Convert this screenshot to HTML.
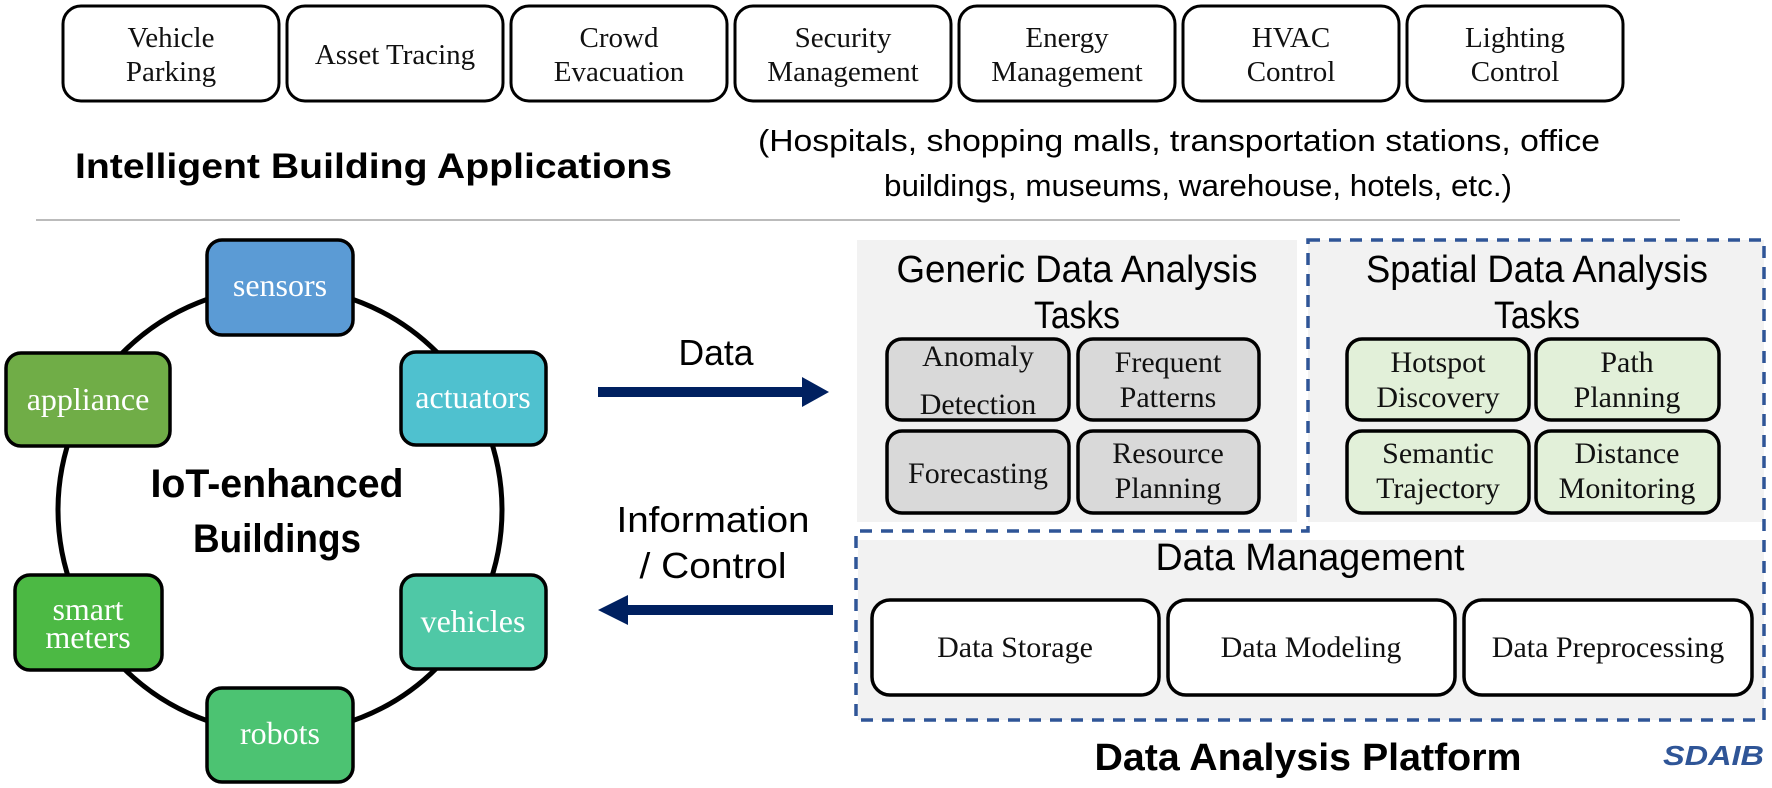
<!DOCTYPE html>
<html><head><meta charset="utf-8"><style>
html,body{margin:0;padding:0;background:#fff;}
svg{display:block;}
.serif{font-family:"Liberation Serif",serif;}
.sans{font-family:"Liberation Sans",sans-serif;}
</style></head><body>
<svg width="1772" height="788" viewBox="0 0 1772 788" xmlns="http://www.w3.org/2000/svg">
<g fill="#fff" stroke="#000" stroke-width="3">
<rect x="63" y="6" width="216" height="95" rx="18"/>
<rect x="287" y="6" width="216" height="95" rx="18"/>
<rect x="511" y="6" width="216" height="95" rx="18"/>
<rect x="735" y="6" width="216" height="95" rx="18"/>
<rect x="959" y="6" width="216" height="95" rx="18"/>
<rect x="1183" y="6" width="216" height="95" rx="18"/>
<rect x="1407" y="6" width="216" height="95" rx="18"/>
</g>
<g class="serif" font-size="29" text-anchor="middle" fill="#111">
<text x="171" y="47">Vehicle</text><text x="171" y="81">Parking</text>
<text x="395" y="64">Asset Tracing</text>
<text x="619" y="47">Crowd</text><text x="619" y="81">Evacuation</text>
<text x="843" y="47">Security</text><text x="843" y="81">Management</text>
<text x="1067" y="47">Energy</text><text x="1067" y="81">Management</text>
<text x="1291" y="47">HVAC</text><text x="1291" y="81">Control</text>
<text x="1515" y="47">Lighting</text><text x="1515" y="81">Control</text>
</g>
<text class="sans" x="75" y="178" font-size="35" font-weight="bold" textLength="597" lengthAdjust="spacingAndGlyphs">Intelligent Building Applications</text>
<text class="sans" x="758" y="151" font-size="31" textLength="842" lengthAdjust="spacingAndGlyphs">(Hospitals, shopping malls, transportation stations, office</text>
<text class="sans" x="884" y="196" font-size="31" textLength="628" lengthAdjust="spacingAndGlyphs">buildings, museums, warehouse, hotels, etc.)</text>
<line x1="36" y1="220" x2="1680" y2="220" stroke="#bbb" stroke-width="2"/>

<ellipse cx="280" cy="510" rx="222" ry="223" fill="none" stroke="#000" stroke-width="5"/>
<g stroke="#000" stroke-width="3.5">
<rect x="207" y="240" width="146" height="95" rx="15" fill="#5b9bd5"/>
<rect x="6" y="353" width="164" height="93" rx="15" fill="#70ad47"/>
<rect x="401" y="352" width="145" height="93" rx="15" fill="#4fc1cf"/>
<rect x="15" y="575" width="147" height="95" rx="15" fill="#4cb944"/>
<rect x="401" y="575" width="145" height="94" rx="15" fill="#4fc8a6"/>
<rect x="207" y="688" width="146" height="94" rx="15" fill="#4cc372"/>
</g>
<g class="serif" font-size="32" text-anchor="middle" fill="#fff">
<text x="280" y="296">sensors</text>
<text x="88" y="410">appliance</text>
<text x="473" y="408">actuators</text>
<text x="88" y="620">smart</text><text x="88" y="648">meters</text>
<text x="473" y="632">vehicles</text>
<text x="280" y="744">robots</text>
</g>
<g class="sans" font-size="40" font-weight="bold" text-anchor="middle">
<text x="277" y="497" textLength="253" lengthAdjust="spacingAndGlyphs">IoT-enhanced</text>
<text x="277" y="552" textLength="168" lengthAdjust="spacingAndGlyphs">Buildings</text>
</g>

<text class="sans" x="716" y="365" font-size="36" text-anchor="middle" textLength="75" lengthAdjust="spacingAndGlyphs">Data</text>
<rect x="598" y="387" width="205" height="10" fill="#002060"/>
<polygon points="802,377 829,392 802,407" fill="#002060"/>
<text class="sans" x="713" y="532" font-size="36" text-anchor="middle" textLength="193" lengthAdjust="spacingAndGlyphs">Information</text>
<text class="sans" x="713" y="578" font-size="36" text-anchor="middle" textLength="147" lengthAdjust="spacingAndGlyphs">/ Control</text>
<rect x="626" y="605" width="207" height="10" fill="#002060"/>
<polygon points="628,595 598,610 628,625" fill="#002060"/>

<rect x="857" y="240" width="440" height="282" fill="#f2f2f2"/>
<rect x="1308" y="240" width="456" height="282" fill="#f2f2f2"/>
<rect x="858" y="540" width="906" height="180" fill="#f2f2f2"/>
<path d="M1308,240 H1764 V720 H856 V531 H1308 Z" fill="none" stroke="#2f5597" stroke-width="3.5" stroke-dasharray="12,9"/>

<g class="sans" font-size="38" text-anchor="middle">
<text x="1077" y="282" textLength="361" lengthAdjust="spacingAndGlyphs">Generic Data Analysis</text>
<text x="1077" y="328" textLength="86" lengthAdjust="spacingAndGlyphs">Tasks</text>
<text x="1537" y="282" textLength="342" lengthAdjust="spacingAndGlyphs">Spatial Data Analysis</text>
<text x="1537" y="328" textLength="86" lengthAdjust="spacingAndGlyphs">Tasks</text>
<text x="1310" y="570" textLength="309" lengthAdjust="spacingAndGlyphs">Data Management</text>
</g>

<g stroke="#000" stroke-width="3.5">
<rect x="887" y="339" width="182" height="81" rx="15" fill="#d9d9d9"/>
<rect x="1078" y="339" width="181" height="81" rx="15" fill="#d9d9d9"/>
<rect x="887" y="431" width="182" height="82" rx="15" fill="#d9d9d9"/>
<rect x="1078" y="431" width="181" height="82" rx="15" fill="#d9d9d9"/>
<rect x="1347" y="339" width="182" height="81" rx="15" fill="#e2f0d9"/>
<rect x="1536" y="339" width="183" height="81" rx="15" fill="#e2f0d9"/>
<rect x="1347" y="431" width="182" height="82" rx="15" fill="#e2f0d9"/>
<rect x="1536" y="431" width="183" height="82" rx="15" fill="#e2f0d9"/>
<rect x="872" y="600" width="287" height="95" rx="18" fill="#fff"/>
<rect x="1168" y="600" width="287" height="95" rx="18" fill="#fff"/>
<rect x="1464" y="600" width="288" height="95" rx="18" fill="#fff"/>
</g>
<g class="serif" font-size="30" text-anchor="middle" fill="#111">
<text x="978" y="366">Anomaly</text><text x="978" y="414">Detection</text>
<text x="1168" y="372">Frequent</text><text x="1168" y="407">Patterns</text>
<text x="978" y="483">Forecasting</text>
<text x="1168" y="463">Resource</text><text x="1168" y="498">Planning</text>
<text x="1438" y="372">Hotspot</text><text x="1438" y="407">Discovery</text>
<text x="1627" y="372">Path</text><text x="1627" y="407">Planning</text>
<text x="1438" y="463">Semantic</text><text x="1438" y="498">Trajectory</text>
<text x="1627" y="463">Distance</text><text x="1627" y="498">Monitoring</text>
<text x="1015" y="657">Data Storage</text>
<text x="1311" y="657">Data Modeling</text>
<text x="1608" y="657">Data Preprocessing</text>
</g>
<text class="sans" x="1308" y="770" font-size="38" font-weight="bold" text-anchor="middle" textLength="427" lengthAdjust="spacingAndGlyphs">Data Analysis Platform</text>
<text class="sans" x="1663" y="765" font-size="28" font-weight="bold" font-style="italic" fill="#2f5597" textLength="101" lengthAdjust="spacingAndGlyphs">SDAIB</text>
</svg>
</body></html>
